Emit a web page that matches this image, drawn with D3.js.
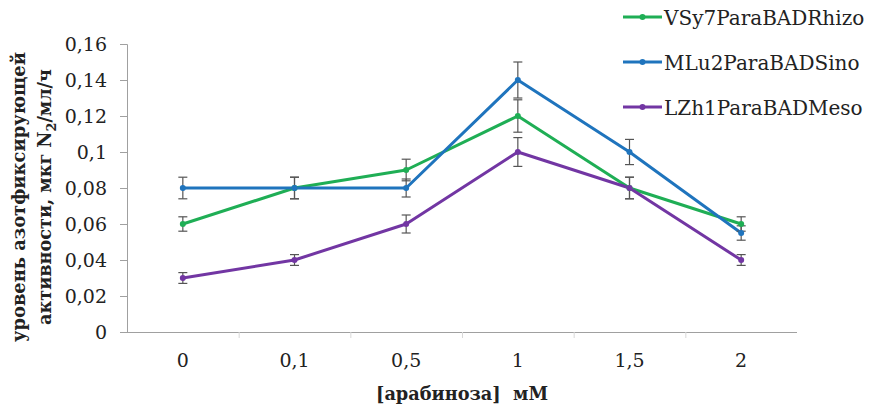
<!DOCTYPE html>
<html>
<head>
<meta charset="utf-8">
<script src="https://cdn.jsdelivr.net/npm/d3@7"></script>
<style>
  html, body { margin: 0; padding: 0; background: #fff; }
  svg { display: block; }
</style>
</head>
<body>
<svg id="chart" width="872" height="405"></svg>
<script>
// arabinose concentrations, mM
const categories = ['0', '0,1', '0,5', '1', '1,5', '2'];

const seriesNames = ['VSy7ParaBADRhizo', 'MLu2ParaBADSino', 'LZh1ParaBADMeso'];
const seriesColors = ['#1fae55', '#1f74bd', '#7236a3'];

// nitrogen fixation activity, mkg N2/ml/h
const vsy7Values = [0.06, 0.08, 0.09, 0.12, 0.08, 0.06];
const mlu2Values = [0.08, 0.08, 0.08, 0.14, 0.10, 0.055];
const lzh1Values = [0.03, 0.04, 0.06, 0.10, 0.08, 0.04];

// error bar half-widths
const vsy7Errors = [0.004, 0.006, 0.006, 0.009, 0.006, 0.004];
const mlu2Errors = [0.006, 0.006, 0.005, 0.010, 0.007, 0.004];
const lzh1Errors = [0.003, 0.003, 0.005, 0.008, 0.006, 0.003];

const yTicks = [0, 0.02, 0.04, 0.06, 0.08, 0.1, 0.12, 0.14, 0.16];

const series = [
  { name: seriesNames[0], color: seriesColors[0], values: vsy7Values, errors: vsy7Errors },
  { name: seriesNames[1], color: seriesColors[1], values: mlu2Values, errors: mlu2Errors },
  { name: seriesNames[2], color: seriesColors[2], values: lzh1Values, errors: lzh1Errors }
];

const svg = d3.select('#chart');
// only DejaVu Serif came out as a serif face here
const FONT = 'DejaVu Serif';

const plot = { left: 127, right: 797, top: 44, bottom: 332 };

const x = d3.scaleBand()
  .domain(categories)
  .range([plot.left, plot.right]);

const y = d3.scaleLinear()
  .domain([0, 0.16])
  .range([plot.bottom, plot.top]);

const fmt = v => (v === 0 ? '0' : String(+v.toFixed(2)).replace('.', ','));

// y axis
const yAxis = svg.append('g')
  .attr('transform', `translate(${plot.left},0)`)
  .call(d3.axisLeft(y).tickValues(yTicks).tickSize(7).tickPadding(13).tickFormat(fmt))
  .attr('font-family', FONT)
  .attr('font-size', 19);
yAxis.select('.domain').attr('stroke', '#a0a0a0');
yAxis.selectAll('.tick line').attr('stroke', '#a0a0a0');
yAxis.selectAll('.tick text').attr('fill', '#222');

// x axis
const xAxis = svg.append('g')
  .attr('transform', `translate(0,${plot.bottom})`)
  .call(d3.axisBottom(x).tickSize(0).tickPadding(22))
  .attr('font-family', FONT)
  .attr('font-size', 19);
xAxis.select('.domain').attr('stroke', '#a0a0a0').attr('d', `M${plot.left - 7},0.5H${plot.right}`);
xAxis.selectAll('.tick text').attr('fill', '#222');

// faint category boundary ticks
svg.append('g')
  .selectAll('line')
  .data(categories.slice(1))
  .join('line')
  .attr('x1', d => x(d) + 0.5)
  .attr('x2', d => x(d) + 0.5)
  .attr('y1', plot.bottom)
  .attr('y2', plot.bottom + 6)
  .attr('stroke', '#d8d8d8');

const cx = i => x(categories[i]) + x.bandwidth() / 2;

const line = d3.line()
  .x((d, i) => cx(i))
  .y(d => y(d));

// series lines
series.forEach(s => {
  svg.append('path')
    .datum(s.values)
    .attr('d', line)
    .attr('fill', 'none')
    .attr('stroke', s.color)
    .attr('stroke-width', 3)
    .attr('stroke-linejoin', 'round');
});

// error bars
series.forEach(s => {
  const g = svg.append('g').attr('stroke', '#555').attr('stroke-width', 1.2);
  s.values.forEach((v, i) => {
    const lo = y(v - s.errors[i]);
    const hi = y(v + s.errors[i]);
    const px = cx(i);
    g.append('line').attr('x1', px).attr('x2', px).attr('y1', lo).attr('y2', hi);
    g.append('line').attr('x1', px - 4.5).attr('x2', px + 4.5).attr('y1', lo).attr('y2', lo);
    g.append('line').attr('x1', px - 4.5).attr('x2', px + 4.5).attr('y1', hi).attr('y2', hi);
  });
});

// markers
series.forEach(s => {
  svg.append('g')
    .selectAll('circle')
    .data(s.values)
    .join('circle')
    .attr('cx', (d, i) => cx(i))
    .attr('cy', d => y(d))
    .attr('r', 3)
    .attr('fill', s.color);
});

// legend
const legend = svg.append('g');
series.forEach((s, i) => {
  const ly = 17 + i * 45;
  legend.append('line')
    .attr('x1', 623).attr('x2', 662)
    .attr('y1', ly).attr('y2', ly)
    .attr('stroke', s.color)
    .attr('stroke-width', 3);
  legend.append('circle')
    .attr('cx', 642.5).attr('cy', ly).attr('r', 3)
    .attr('fill', s.color);
  legend.append('text')
    .attr('font-family', FONT)
    .attr('font-size', 20)
    .attr('fill', '#222')
    .attr('x', 664)
    .attr('y', ly + 8)
    .text(s.name);
});

// axis titles
svg.append('text')
  .attr('font-family', FONT)
  .attr('font-size', 19)
  .attr('font-weight', 'bold')
  .attr('fill', '#222')
  .attr('x', 462)
  .attr('y', 400)
  .attr('text-anchor', 'middle')
  .attr('textLength', 172)
  .attr('lengthAdjust', 'spacingAndGlyphs')
  .text('[арабиноза]\u00a0\u00a0мМ');

const yTitle = svg.append('g')
  .attr('transform', 'translate(0,197) rotate(-90)')
  .attr('font-family', FONT)
  .attr('font-size', 18)
  .attr('font-weight', 'bold')
  .attr('fill', '#222');
yTitle.append('text')
  .attr('x', 0).attr('y', 25)
  .attr('text-anchor', 'middle')
  .attr('textLength', 290)
  .attr('lengthAdjust', 'spacingAndGlyphs')
  .text('уровень азотфиксирующей');
const second = yTitle.append('text')
  .attr('x', 0).attr('y', 51)
  .attr('text-anchor', 'middle')
  .attr('textLength', 256)
  .attr('lengthAdjust', 'spacingAndGlyphs');
second.append('tspan').text('активности, мкг N');
second.append('tspan').attr('font-size', 13).attr('dy', 5).text('2');
second.append('tspan').attr('dy', -5).text('/мл/ч');
</script>
</body>
</html>
